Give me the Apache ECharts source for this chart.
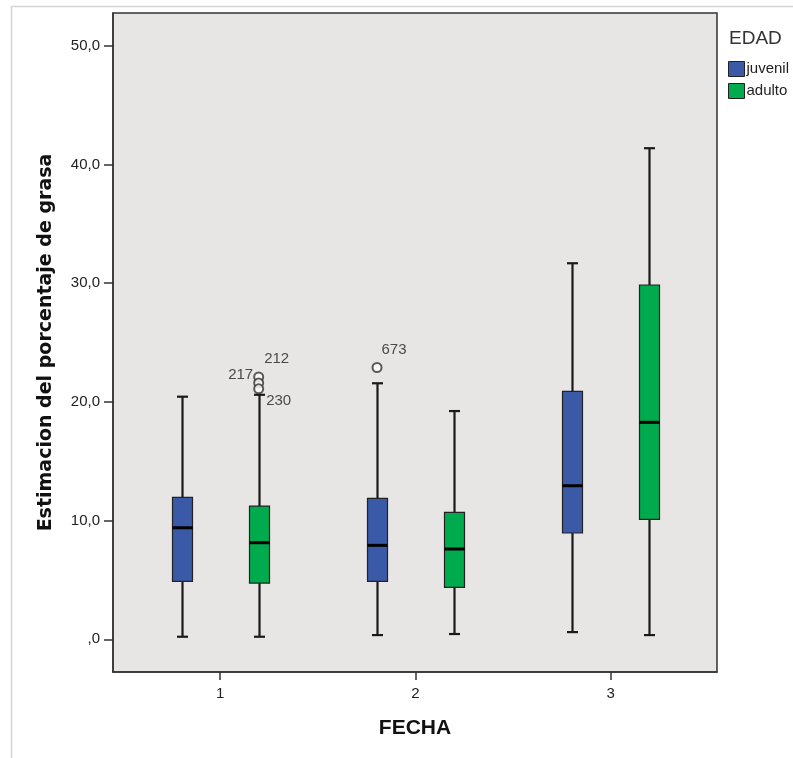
<!DOCTYPE html>
<html>
<head>
<meta charset="utf-8">
<script src="https://cdn.jsdelivr.net/npm/echarts@6/dist/echarts.min.js"></script>
<style>html,body{margin:0;padding:0;background:#fff}#c{width:793px;height:758px}</style>
</head>
<body>
<div id="c"></div>
<script>
// ---- data ----
const categories = [1, 2, 3];               // FECHA
const groups = ['juvenil', 'adulto'];        // EDAD
// [min, Q1, median, Q3, max] per FECHA
const juvenilStats = [
  [0.22, 4.89, 9.40, 11.96, 20.44],
  [0.36, 4.89, 7.92, 11.88, 21.57],
  [0.61, 8.96, 12.94, 20.89, 31.68]
];
const adultoStats = [
  [0.22, 4.74, 8.14, 11.23, 20.6],
  [0.45, 4.38, 7.61, 10.70, 19.23],
  [0.36, 10.11, 18.28, 29.85, 41.37]
];
// outliers: [FECHA, group, value, case label]
const outliers = [
  [1, 'adulto', 22.1, '212'],
  [1, 'adulto', 21.6, '217'],
  [1, 'adulto', 21.1, '230'],
  [2, 'juvenil', 22.9, '673']
];
const yTicks = [0, 10, 20, 30, 40, 50];

// ---- presentation ----
const colors = { juvenil: '#3a5aa8', adulto: '#00ab4e' };
const groupOffset = { juvenil: -0.197, adulto: 0.197 };
const labelOffsets = { '212': [18, -18], '217': [-18, -8], '230': [20, 12], '673': [17, -18] };

function boxRenderer(group) {
  return function (params, api) {
    const x = api.value(0) + groupOffset[group];
    const pMin = api.coord([x, api.value(1)]);
    const pQ1 = api.coord([x, api.value(2)]);
    const pMed = api.coord([x, api.value(3)]);
    const pQ3 = api.coord([x, api.value(4)]);
    const pMax = api.coord([x, api.value(5)]);
    const cx = Math.round(pMin[0]) + 0.5;
    const hw = 10, cap = 5.5;
    const lineStyle = { stroke: '#1a1a1a', lineWidth: 2.2 };
    return {
      type: 'group',
      children: [
        { type: 'line', shape: { x1: cx, y1: pMax[1], x2: cx, y2: pQ3[1] }, style: lineStyle },
        { type: 'line', shape: { x1: cx, y1: pQ1[1], x2: cx, y2: pMin[1] }, style: lineStyle },
        { type: 'line', shape: { x1: cx - cap, y1: pMax[1], x2: cx + cap, y2: pMax[1] }, style: lineStyle },
        { type: 'line', shape: { x1: cx - cap, y1: pMin[1], x2: cx + cap, y2: pMin[1] }, style: lineStyle },
        { type: 'rect', shape: { x: cx - hw, y: pQ3[1], width: hw * 2, height: pQ1[1] - pQ3[1] },
          style: { fill: colors[group], stroke: '#222', lineWidth: 1.2 } },
        { type: 'line', shape: { x1: cx - hw, y1: pMed[1], x2: cx + hw, y2: pMed[1] },
          style: { stroke: '#000', lineWidth: 3 } }
      ]
    };
  };
}

const juvenilData = categories.map((c, i) => [c].concat(juvenilStats[i]));
const adultoData = categories.map((c, i) => [c].concat(adultoStats[i]));
const outlierData = outliers.map(o => ({
  value: [o[0] + groupOffset[o[1]], o[2]],
  label: { show: true, formatter: o[3], position: 'inside', offset: labelOffsets[o[3]] }
}));

const chart = echarts.init(document.getElementById('c'), null, { renderer: 'canvas' });
const tickFont = { fontFamily: 'Liberation Sans', fontSize: 15, color: '#222' };

chart.setOption({
  animation: false,
  backgroundColor: '#fff',
  graphic: [
    { type: 'rect', z: -10, shape: { x: 11.5, y: 6.5, width: 800, height: 800 },
      style: { fill: 'none', stroke: '#d4d4d4', lineWidth: 1.5 } }
  ],
  title: {
    text: 'EDAD', left: 724, top: 24,
    textStyle: { fontFamily: 'Liberation Sans', fontSize: 19, fontWeight: 'normal', color: '#333' }
  },
  legend: {
    orient: 'vertical', left: 723, top: 56,
    data: groups, icon: 'rect', itemWidth: 16, itemHeight: 15, itemGap: 6,
    itemStyle: { borderColor: '#222', borderWidth: 1 },
    textStyle: { fontFamily: 'Liberation Sans', fontSize: 15, color: '#222', padding: [0, 0, 0, -3] }
  },
  grid: {
    left: 113, right: 76, top: 13, bottom: 86, show: true,
    backgroundColor: '#e7e6e4', borderColor: '#333', borderWidth: 1.5
  },
  xAxis: {
    type: 'value', min: 0.451, max: 3.544,
    name: 'FECHA', nameLocation: 'middle', nameGap: 46,
    nameTextStyle: { fontFamily: 'Liberation Sans', fontSize: 21, fontWeight: 'bold', color: '#111' },
    axisLine: { show: true, onZero: false, lineStyle: { color: '#333', width: 1.5 } },
    axisTick: { show: true, length: 8, lineStyle: { color: '#333', width: 1.5 }, customValues: categories },
    axisLabel: { ...tickFont, margin: 14, customValues: categories, formatter: v => String(v) },
    splitLine: { show: false }
  },
  yAxis: {
    type: 'value', min: -2.75, max: 52.76,
    name: 'Estimacion del porcentaje de grasa', nameLocation: 'middle', nameGap: 57,
    nameTextStyle: { fontFamily: 'DejaVu Sans', fontSize: 19, fontWeight: 'bold', color: '#111' },
    axisLine: { show: true, onZero: false, lineStyle: { color: '#333', width: 1.5 } },
    axisTick: { show: true, length: 9, lineStyle: { color: '#333', width: 1.5 }, customValues: yTicks },
    axisLabel: { ...tickFont, margin: 13, customValues: yTicks,
      formatter: v => v === 0 ? ',0' : v.toFixed(1).replace('.', ',') },
    splitLine: { show: false }
  },
  series: [
    { name: 'juvenil', type: 'custom', renderItem: boxRenderer('juvenil'), data: juvenilData,
      itemStyle: { color: colors.juvenil }, encode: { x: 0, y: [1, 2, 3, 4, 5] } },
    { name: 'adulto', type: 'custom', renderItem: boxRenderer('adulto'), data: adultoData,
      itemStyle: { color: colors.adulto }, encode: { x: 0, y: [1, 2, 3, 4, 5] } },
    { name: 'outliers', type: 'scatter', data: outlierData, symbol: 'emptyCircle', symbolSize: 9,
      itemStyle: { color: '#333', borderWidth: 1.5 },
      label: { fontFamily: 'Liberation Sans', fontSize: 15, color: '#222' } }
  ]
});
</script>
</body>
</html>
